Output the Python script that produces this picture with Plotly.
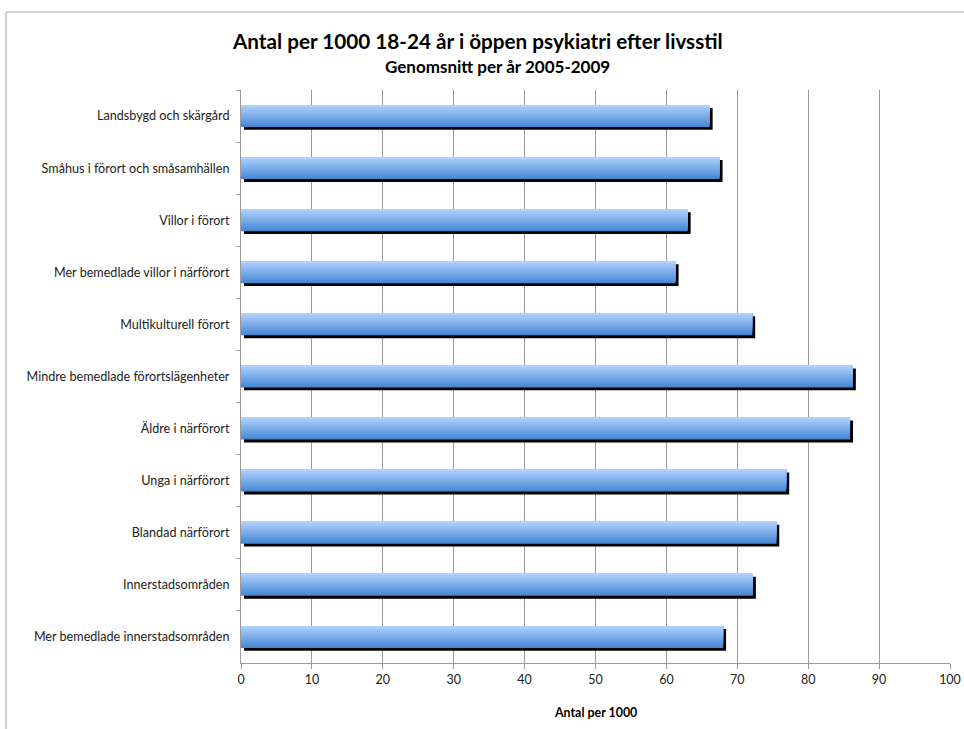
import plotly.graph_objects as go

# Lifestyle areas, listed top to bottom
categories = [
    "Landsbygd och skärgård",
    "Småhus i förort och småsamhällen",
    "Villor i förort",
    "Mer bemedlade villor i närförort",
    "Multikulturell förort",
    "Mindre bemedlade förortslägenheter",
    "Äldre i närförort",
    "Unga i närförort",
    "Blandad närförort",
    "Innerstadsområden",
    "Mer bemedlade innerstadsområden",
]
# Patients per 1000 persons aged 18-24 (yearly average 2005-2009)
values = [66.1, 67.5, 63.0, 61.3, 72.1, 86.3, 85.9, 76.9, 75.5, 72.2, 68.0]
x_ticks = [0, 10, 20, 30, 40, 50, 60, 70, 80, 90, 100]

W, H = 964, 729
ML, MR, MT, MB = 241, 14, 90, 66
PW, PH = W - ML - MR, H - MT - MB

def px(x):
    return (x - ML) / PW

def py(y):
    return (H - MB - y) / PH

BAR_W = 0.42
fig = go.Figure()

# drop shadow
fig.add_trace(go.Bar(
    y=categories, x=values, base=0.42, orientation="h",
    width=BAR_W, offset=-BAR_W / 2 + 0.055,
    marker=dict(color="#000000", line=dict(width=0)),
    hoverinfo="skip", showlegend=False,
))

# bar body: nested bars anchored at the top edge, dark (full) -> light (thin),
# giving a vertical gradient from light top to darker bottom
top = (174, 208, 252)
bot = (70, 136, 212)
n = 16
for i in range(n):
    t = 1 - i / (n - 1)
    c = tuple(round(top[k] + (bot[k] - top[k]) * t) for k in range(3))
    w = BAR_W * (n - i) / n
    fig.add_trace(go.Bar(
        y=categories, x=values, orientation="h",
        width=w, offset=-BAR_W / 2,
        marker=dict(color="rgb(%d,%d,%d)" % c, line=dict(width=0)),
        hovertemplate="%{y}: %{x}<extra></extra>", showlegend=False,
    ))

fig.update_layout(
    width=W, height=H,
    margin=dict(l=ML, r=MR, t=MT, b=MB, autoexpand=False),
    barmode="overlay",
    plot_bgcolor="white", paper_bgcolor="white",
    font=dict(family="Lato, Open Sans, sans-serif", color="#222222", size=12),
    xaxis=dict(
        range=[0, 100], tickvals=x_ticks, ticktext=[str(v) for v in x_ticks],
        showgrid=True, gridcolor="#9a9a9a", gridwidth=1,
        showline=True, linecolor="#9a9a9a", linewidth=1,
        ticks="outside", ticklen=5, tickcolor="#9a9a9a",
        tickfont=dict(size=12.5, color="#222222"), zeroline=False,
        fixedrange=True, automargin=False,
    ),
    yaxis=dict(
        categoryorder="array", categoryarray=categories,
        autorange="reversed",
        showline=True, linecolor="#9a9a9a", linewidth=1,
        ticks="outside", ticklen=4, tickcolor="#9a9a9a", tickson="boundaries",
        showgrid=False, tickfont=dict(size=12.6, color="#222222"),
        ticklabelstandoff=8, fixedrange=True, automargin=False,
    ),
    annotations=[
        dict(text="<b>Antal per 1000 18-24 år i öppen psykiatri efter livsstil</b>",
             x=px(477), y=py(41), xref="paper", yref="paper",
             xanchor="center", yanchor="middle", showarrow=False,
             font=dict(size=20.7, color="#000000")),
        dict(text="<b>Genomsnitt per år 2005-2009</b>",
             x=px(497), y=py(67), xref="paper", yref="paper",
             xanchor="center", yanchor="middle", showarrow=False,
             font=dict(size=17, color="#000000")),
        dict(text="<b>Antal per 1000</b>",
             x=px(595), y=py(712), xref="paper", yref="paper",
             xanchor="center", yanchor="middle", showarrow=False,
             font=dict(size=12.4, color="#000000")),
    ],
    shapes=[
        dict(type="rect", xref="paper", yref="paper",
             x0=px(6), x1=px(1000), y0=py(760), y1=py(12),
             line=dict(color="#a6a6a6", width=1), fillcolor="rgba(0,0,0,0)",
             layer="below"),
    ],
)

fig.write_html("out.html")
